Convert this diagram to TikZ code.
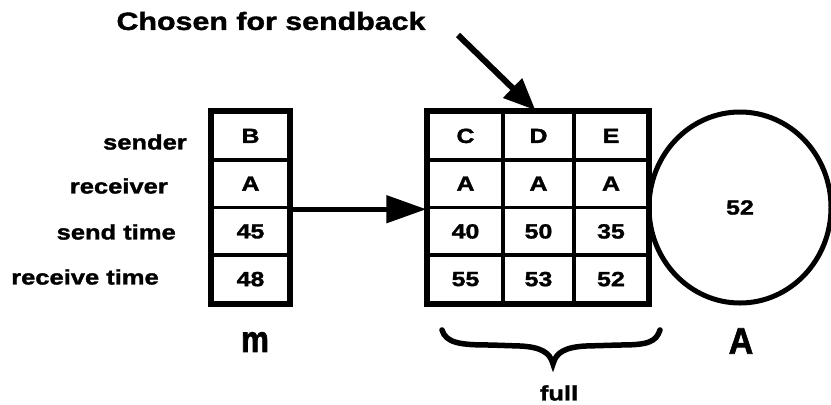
\documentclass[tikz,border=0pt]{standalone}
\usepackage{fontspec}
\setmainfont{Liberation Sans}[FakeStretch=1.22,BoldFeatures={FakeBold=1.6}]
\newfontfamily\bigfont{Liberation Sans}[BoldFeatures={FakeBold=2}]
\usetikzlibrary{arrows.meta,shapes.geometric,calc}
\begin{document}
\begin{tikzpicture}[x=1bp,y=-1bp,
  cell/.style={draw,line width=3.5bp,minimum height=47.75bp,inner sep=0pt,font=\fontsize{20.5}{22}\selectfont\bfseries},
  mcell/.style={cell,minimum width=77bp},
  ccell/.style={cell,minimum width=75bp},
  dcell/.style={cell,minimum width=71bp},
  ecell/.style={cell,minimum width=74bp},
  outer/.style={line width=5bp},
  rowlab/.style={anchor=east,inner sep=0pt,font=\fontsize{21}{22}\selectfont\bfseries},
  bigarrow/.style={line width=5bp,-{Triangle[length=40bp,width=27bp]}},
  diagarrow/.style={line width=6bp,-{Triangle[length=32bp,width=26bp]}},
  bracestyle/.style={line width=5.5bp,line cap=round},
  biglab/.style={inner sep=0pt,font=\bigfont\fontsize{37}{40}\selectfont\bfseries}]
\useasboundingbox (0,0) rectangle (831,404);
% row labels
\node[rowlab] (lsender) at (187,142) {sender};
\node[rowlab] (lrecv) at (168,186) {receiver};
\node[rowlab] (lsend) at (176,232) {send time};
\node[rowlab] (lrtime) at (159,277) {receive time};
% m table
\node[mcell] (m1) at (250.5,135.9) {B};
\node[mcell] (m2) at (250.5,183.6) {A};
\node[mcell] (m3) at (250.5,231.4) {45};
\node[mcell] (m4) at (250.5,279.1) {48};
\draw[outer] (m1.north west) rectangle (m4.south east);
% full table
\node[ccell] (c1) at (465.5,135.9) {C};
\node[ccell] (c2) at (465.5,183.6) {A};
\node[ccell] (c3) at (465.5,231.4) {40};
\node[ccell] (c4) at (465.5,279.1) {55};
\node[dcell] (d1) at (538.5,135.9) {D};
\node[dcell] (d2) at (538.5,183.6) {A};
\node[dcell] (d3) at (538.5,231.4) {50};
\node[dcell] (d4) at (538.5,279.1) {53};
\node[ecell] (e1) at (611,135.9) {E};
\node[ecell] (e2) at (611,183.6) {A};
\node[ecell] (e3) at (611,231.4) {35};
\node[ecell] (e4) at (611,279.1) {52};
\draw[outer] (c1.north west) rectangle (e4.south east);
% circle A
\node[draw,ellipse,line width=5bp,minimum width=182bp,minimum height=191bp,inner sep=0pt,
      font=\fontsize{20.5}{22}\selectfont\bfseries] (circ) at (740,207.5) {52};
% arrows
\draw[bigarrow] (m2.south east) -- (c2.south west);
\coordinate (tail) at (458,35);
\draw[diagarrow] (tail) -- ($(d1.north)+(-3,0)$);
\node[inner sep=0pt,font=\fontsize{25}{28}\selectfont\bfseries] (chosen) at (271,21) {Chosen for sendback};
% brace
\coordinate (bl) at (442,330);
\coordinate (br) at (660,330);
\coordinate (bt) at (553,364);
\draw[bracestyle] (bl) .. controls (446,343) and (460,345) .. (490,345) -- (520,346)
  .. controls (540,347) and (550,352) .. (bt)
  .. controls (556,352) and (566,347) .. (586,346) -- (620,345)
  .. controls (648,345) and (656,342) .. (br);
% bottom labels
\node[inner sep=0pt,font=\fontsize{21}{24}\selectfont\bfseries] (full) at (559,393) {full};
\node[biglab] (mlab) at (255,342) {\scalebox{0.85}[1]{m}};
\node[biglab] (alab) at (741,341) {\scalebox{0.92}[1]{A}};
\end{tikzpicture}
\end{document}
